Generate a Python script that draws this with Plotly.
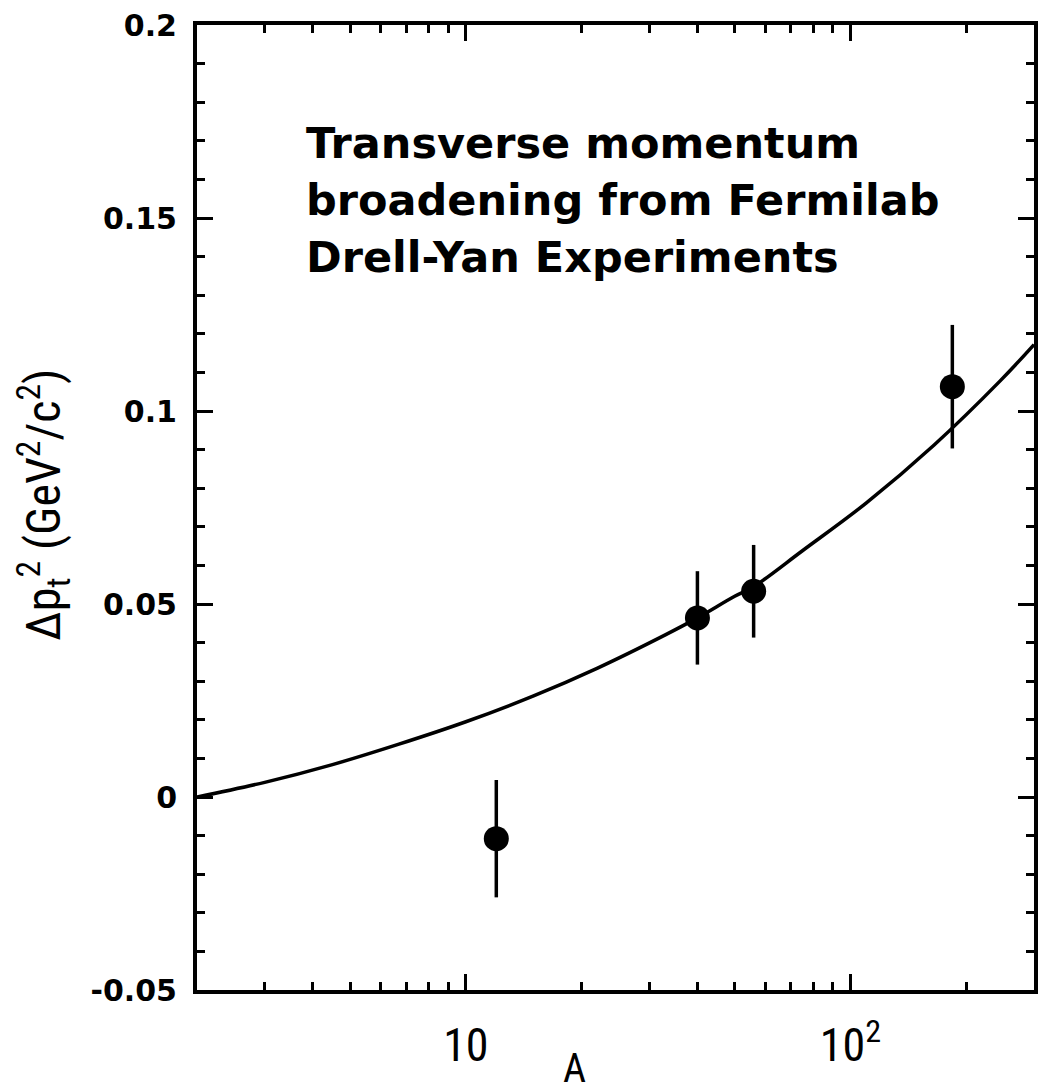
import numpy as np
import plotly.graph_objects as go

# Measured broadening per nuclear target (mass number A)
target_A = [12, 40, 56, 184]
broadening = [-0.0108, 0.0464, 0.0533, 0.1063]
broadening_err = [0.0152, 0.0121, 0.0120, 0.0160]

# Fit curve, sampled along its length
fit_A = [2, 3, 4.5, 6.7, 10, 15, 22, 33, 40, 50, 56, 75, 110, 165, 245, 300]
fit_dpt2 = [0.0, 0.0038, 0.0084, 0.0137, 0.0195, 0.0262, 0.0334, 0.0420, 0.0464,
            0.0520, 0.0545, 0.0638, 0.0762, 0.0912, 0.1078, 0.1172]

# Axis ticks
x_major = [10, 100]
x_major_text = ["10", "10<sup>2</sup>"]
x_minor = [3, 4, 5, 6, 7, 8, 9, 20, 30, 40, 50, 60, 70, 80, 90, 200]
y_major = [-0.05, 0, 0.05, 0.1, 0.15, 0.2]
y_major_text = ["-0.05", "0", "0.05", "0.1", "0.15", "0.2"]
y_minor = [round(v, 2) for v in np.arange(-0.05, 0.2001, 0.01)
           if round(v * 100) % 5 != 0]

title_lines = ["Transverse momentum",
               "broadening from Fermilab",
               "Drell-Yan Experiments"]

NARROW = "Liberation Sans Narrow, Arial Narrow, Roboto Condensed, Liberation Sans, sans-serif"

fig = go.Figure()

fig.add_trace(go.Scatter(
    x=fit_A, y=fit_dpt2, mode="lines",
    line=dict(color="black", width=3.5, shape="spline", smoothing=1.0),
    hoverinfo="skip",
))

fig.add_trace(go.Scatter(
    x=target_A, y=broadening, mode="markers",
    marker=dict(color="black", size=25),
    error_y=dict(type="data", array=broadening_err, color="black",
                 thickness=3.5, width=0),
))

# plot-area geometry in pixels
L, R, T, B = 197, 1038, 25, 990
W, H = R - L, B - T


def px(xp):
    return (xp - L) / W


def py(yp):
    return (B - yp) / H


for line, yc in zip(title_lines, [143, 200, 257]):
    fig.add_annotation(
        x=px(305), y=py(yc), xref="paper", yref="paper",
        text=line, showarrow=False, xanchor="left", yanchor="middle",
        font=dict(family="DejaVu Sans", size=43, color="black", weight="bold"),
    )

fig.add_annotation(
    x=px(42), y=py(505), xref="paper", yref="paper",
    text="Δp<sub>t</sub><sup>2</sup> (GeV<sup>2</sup>/c<sup>2</sup>)",
    textangle=-90, showarrow=False, xanchor="center", yanchor="middle",
    font=dict(family=NARROW, size=48, color="black"),
)

fig.add_annotation(
    x=px(576), y=py(1068), xref="paper", yref="paper",
    text="A", showarrow=False, xanchor="center", yanchor="middle",
    font=dict(family=NARROW, size=40, color="black"),
)

fig.update_layout(
    width=1042, height=1090,
    margin=dict(l=L, r=1042 - R, t=T, b=1090 - B),
    paper_bgcolor="white", plot_bgcolor="white",
    showlegend=False,
)

fig.update_xaxes(
    type="log", range=[np.log10(2), np.log10(300)],
    tickmode="array", tickvals=x_major, ticktext=x_major_text,
    ticks="inside", ticklen=16, tickwidth=3, tickcolor="black",
    showline=True, linecolor="black", linewidth=4, mirror="ticks",
    showgrid=False, zeroline=False,
    tickfont=dict(family=NARROW, size=46, color="black"),
    ticklabelstandoff=12,
    minor=dict(tickmode="array", tickvals=x_minor, ticks="inside",
               ticklen=8, tickwidth=3, tickcolor="black", showgrid=False),
)

fig.update_yaxes(
    range=[-0.05, 0.2],
    tickmode="array", tickvals=y_major, ticktext=y_major_text,
    ticks="inside", ticklen=16, tickwidth=3, tickcolor="black",
    showline=True, linecolor="black", linewidth=4, mirror="ticks",
    showgrid=False, zeroline=False,
    tickfont=dict(family="DejaVu Sans", size=30, color="black", weight="bold"),
    ticklabelstandoff=10,
    minor=dict(tickmode="array", tickvals=y_minor, ticks="inside",
               ticklen=8, tickwidth=3, tickcolor="black", showgrid=False),
)

fig.write_html("out.html")
